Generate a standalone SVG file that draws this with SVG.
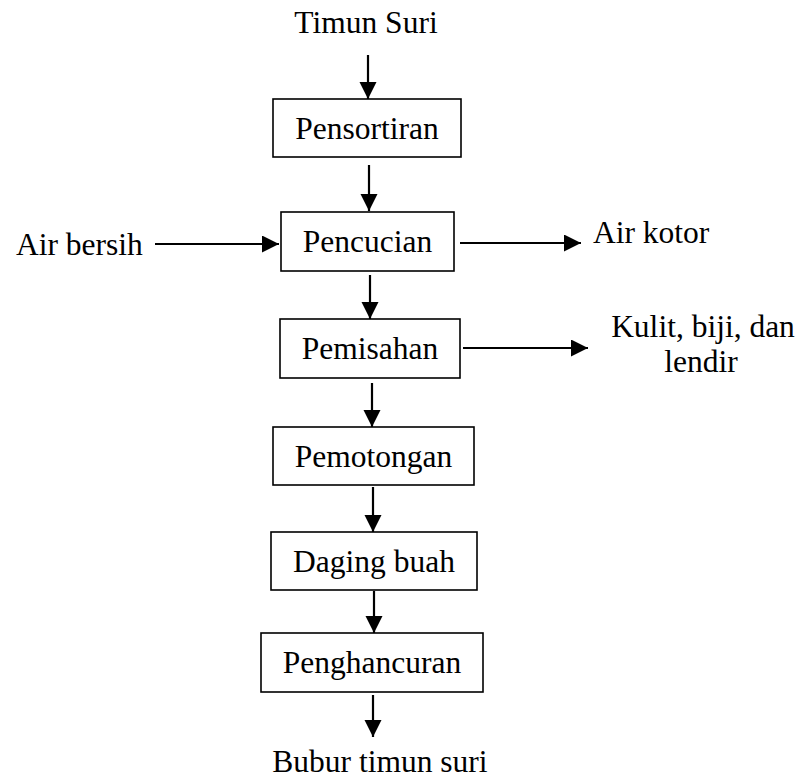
<svg xmlns="http://www.w3.org/2000/svg" width="801" height="781" viewBox="0 0 801 781">
<style>
.box{fill:#fff;stroke:#000;stroke-width:1.6}
.t{font-family:"Liberation Serif","Times New Roman",serif;font-size:31.5px;fill:#000}
.c{text-anchor:middle}
.ln{stroke:#000;stroke-width:2.2;fill:none;marker-end:url(#ah)}
</style>
<defs>
<marker id="ah" markerUnits="userSpaceOnUse" markerWidth="18" markerHeight="18" refX="17" refY="8.5" orient="auto">
<path d="M0,0 L17,8.5 L0,17 z" fill="#000"/>
</marker>
</defs>
<rect width="801" height="781" fill="#fff"/>
<g id="connectors">
<line class="ln" x1="368" y1="55" x2="368" y2="99"/>
<line class="ln" x1="369" y1="165" x2="369" y2="211"/>
<line class="ln" x1="370" y1="275" x2="370" y2="319"/>
<line class="ln" x1="372" y1="383" x2="372" y2="427"/>
<line class="ln" x1="373" y1="487" x2="373" y2="532"/>
<line class="ln" x1="374" y1="591" x2="374" y2="633"/>
<line class="ln" x1="373" y1="695" x2="373" y2="737"/>
<line class="ln" x1="155" y1="244" x2="279" y2="244"/>
<line class="ln" x1="460" y1="243" x2="581" y2="243"/>
<line class="ln" x1="463" y1="348" x2="588" y2="348"/>
</g>
<g id="input"><text class="t c" x="366" y="33">Timun Suri</text></g>
<g id="pensortiran"><rect class="box" x="273" y="99" width="188" height="58"/><text class="t c" x="367" y="139">Pensortiran</text></g>
<g id="air-bersih"><text class="t" x="16" y="255">Air bersih</text></g>
<g id="pencucian"><rect class="box" x="281" y="212" width="173" height="59"/><text class="t c" x="367.5" y="252">Pencucian</text></g>
<g id="air-kotor"><text class="t" x="593" y="243">Air kotor</text></g>
<g id="pemisahan"><rect class="box" x="280" y="319" width="180" height="59"/><text class="t c" x="370" y="359">Pemisahan</text></g>
<g id="limbah"><text class="t c" x="703" y="337">Kulit, biji, dan</text><text class="t c" x="701" y="372">lendir</text></g>
<g id="pemotongan"><rect class="box" x="273" y="427" width="201" height="58"/><text class="t c" x="373.5" y="467">Pemotongan</text></g>
<g id="daging-buah"><rect class="box" x="271" y="532" width="206" height="58"/><text class="t c" x="374" y="572">Daging buah</text></g>
<g id="penghancuran"><rect class="box" x="261" y="633" width="222" height="59"/><text class="t c" x="372" y="673">Penghancuran</text></g>
<g id="output"><text class="t c" x="380" y="772">Bubur timun suri</text></g>
</svg>
